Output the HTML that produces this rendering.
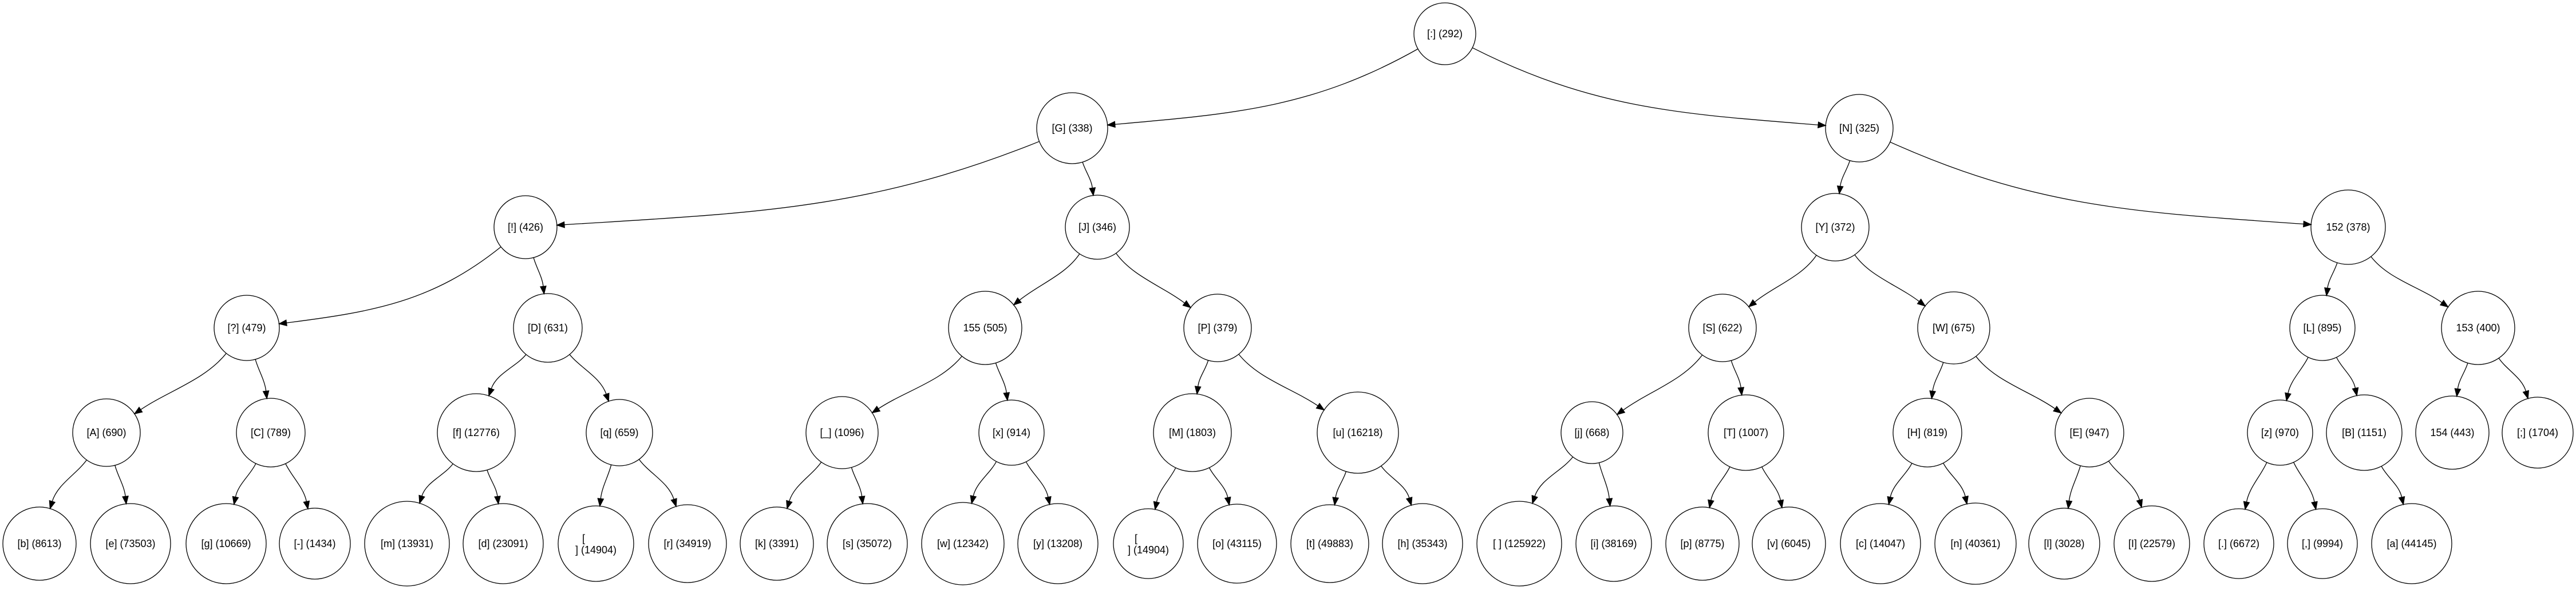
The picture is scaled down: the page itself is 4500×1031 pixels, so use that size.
<!DOCTYPE html>
<html><head><meta charset="utf-8"><style>
html,body{margin:0;padding:0;background:#fff;}
svg{display:block;}
text{font-family:"Liberation Sans",Arial,sans-serif;font-size:18px;fill:#000;}
</style></head><body>
<svg id="g" width="4500" height="1031" viewBox="0 0 4500 1031" xmlns="http://www.w3.org/2000/svg"></svg>
<script>
var N={
root:[2524,59,54,"[:] (292)"],
G:[1873,224,62,"[G] (338)"],
Nn:[3248,224,59,"[N] (325)"],
ex:[918,397,55,"[!] (426)"],
J:[1917,397,56,"[J] (346)"],
Y:[3206,397,59,"[Y] (372)"],
n152:[4102,397,65,"152 (378)"],
q:[431,573,57,"[?] (479)"],
D:[957,573,60,"[D] (631)"],
n155:[1721,573,64,"155 (505)"],
P:[2127,573,59,"[P] (379)"],
S:[3009,573,59,"[S] (622)"],
W:[3413,573,63,"[W] (675)"],
L:[4057,573,57,"[L] (895)"],
n153:[4329,573,64,"153 (400)"],
A:[186,756,59,"[A] (690)"],
C:[473,756,60,"[C] (789)"],
f:[832,756,68,"[f] (12776)"],
qq:[1082,756,58,"[q] (659)"],
us:[1471,756,63,"[_] (1096)"],
x:[1767,756,57,"[x] (914)"],
M:[2083,756,68,"[M] (1803)"],
u:[2372,756,71,"[u] (16218)"],
j:[2781,756,54,"[j] (668)"],
T:[3050,756,66,"[T] (1007)"],
H:[3367,756,60,"[H] (819)"],
E:[3650,756,60,"[E] (947)"],
z:[3983,756,57,"[z] (970)"],
B:[4130,756,66,"[B] (1151)"],
n154:[4284,756,64,"154 (443)"],
sc:[4433,756,62,"[;] (1704)"],
b:[69,950,64,"[b] (8613)"],
e:[228,950,70,"[e] (73503)"],
g:[395,950,70,"[g] (10669)"],
da:[550,950,62,"[-] (1434)"],
m:[711,950,74,"[m] (13931)"],
d:[879,950,70,"[d] (23091)"],
nl1:[1041,950,66,"[\n] (14904)"],
r:[1201,950,68,"[r] (34919)"],
k:[1357,950,64,"[k] (3391)"],
s:[1515,950,70,"[s] (35072)"],
w:[1682,950,72,"[w] (12342)"],
y:[1848,950,70,"[y] (13208)"],
nl2:[2006,950,61,"[\n] (14904)"],
o:[2161,950,69,"[o] (43115)"],
t:[2323,950,68,"[t] (49883)"],
h:[2485,950,70,"[h] (35343)"],
sp:[2654,950,74,"[ ] (125922)"],
i:[2819,950,66,"[i] (38169)"],
p:[2974,950,64,"[p] (8775)"],
v:[3125,950,64,"[v] (6045)"],
c:[3285,950,70,"[c] (14047)"],
nn:[3451,950,71,"[n] (40361)"],
l:[3606,950,62,"[l] (3028)"],
I:[3759,950,66,"[I] (22579)"],
dot:[3911,950,61,"[.] (6672)"],
com:[4057,950,61,"[,] (9994)"],
a:[4213,950,70,"[a] (44145)"]
};
var E=[["root","G"],["root","Nn"],["G","ex"],["G","J"],["Nn","Y"],["Nn","n152"],
["ex","q"],["ex","D"],["J","n155"],["J","P"],["Y","S"],["Y","W"],["n152","L"],["n152","n153"],
["q","A"],["q","C"],["D","f"],["D","qq"],["n155","us"],["n155","x"],["P","M"],["P","u"],
["S","j"],["S","T"],["W","H"],["W","E"],["L","z"],["L","B"],["n153","n154"],["n153","sc"],
["A","b"],["A","e"],["C","g"],["C","da"],["f","m"],["f","d"],["qq","nl1"],["qq","r"],
["us","k"],["us","s"],["x","w"],["x","y"],["M","nl2"],["M","o"],["u","t"],["u","h"],
["j","sp"],["j","i"],["T","p"],["T","v"],["H","c"],["H","nn"],["E","l"],["E","I"],
["z","dot"],["z","com"],["B","a"]];
var svg=document.getElementById("g"),out="";
function u(x,y){var l=Math.sqrt(x*x+y*y);return [x/l,y/l];}
E.forEach(function(e){
 var P=N[e[0]],C=N[e[1]],dx=C[0]-P[0],dy=C[1]-P[1],adx=Math.abs(dx),div;
 var ex,ar;
 if(adx>300){ex=u(dx*0.45,dy);ar=u(dx,dy*0.35);div=2.6;}
 else if(adx>150){ex=u(dx*0.6,dy);ar=u(dx,dy*0.9);div=3;}
 else{ex=u(dx*1.2,dy);ar=u(dx*0.5,dy);div=3;}
 var S=[P[0]+P[2]*ex[0],P[1]+P[2]*ex[1]];
 var T=[C[0]-C[2]*ar[0],C[1]-C[2]*ar[1]];
 var B=[T[0]-13*ar[0],T[1]-13*ar[1]];
 var L=Math.sqrt(Math.pow(B[0]-S[0],2)+Math.pow(B[1]-S[1],2))/div;
 var c1=[S[0]+ex[0]*L,S[1]+ex[1]*L],c2=[B[0]-ar[0]*L,B[1]-ar[1]*L];
 out+='<path d="M'+S[0].toFixed(1)+','+S[1].toFixed(1)+' C'+c1[0].toFixed(1)+','+c1[1].toFixed(1)+' '+c2[0].toFixed(1)+','+c2[1].toFixed(1)+' '+B[0].toFixed(1)+','+B[1].toFixed(1)+'" fill="none" stroke="#000" stroke-width="1.3"/>';
 var px=-ar[1],py=ar[0];
 out+='<polygon points="'+T[0].toFixed(1)+','+T[1].toFixed(1)+' '+(B[0]+5*px).toFixed(1)+','+(B[1]+5*py).toFixed(1)+' '+(B[0]-5*px).toFixed(1)+','+(B[1]-5*py).toFixed(1)+'" fill="#000" stroke="#000" stroke-width="1.3"/>';
});
for(var k in N){var n=N[k];
 out+='<circle cx="'+n[0]+'" cy="'+n[1]+'" r="'+n[2]+'" fill="none" stroke="#000" stroke-width="1.3"/>';
 var lines=n[3].split("\n");
 if(lines.length==1){out+='<text x="'+n[0]+'" y="'+(n[1]+6)+'" text-anchor="middle">'+lines[0]+'</text>';}
 else{out+='<text x="'+(n[0]-24)+'" y="'+(n[1]-3)+'">'+lines[0]+'</text><text x="'+n[0]+'" y="'+(n[1]+17)+'" text-anchor="middle">'+lines[1]+'</text>';}
}
svg.innerHTML=out;
</script>
</body></html>
